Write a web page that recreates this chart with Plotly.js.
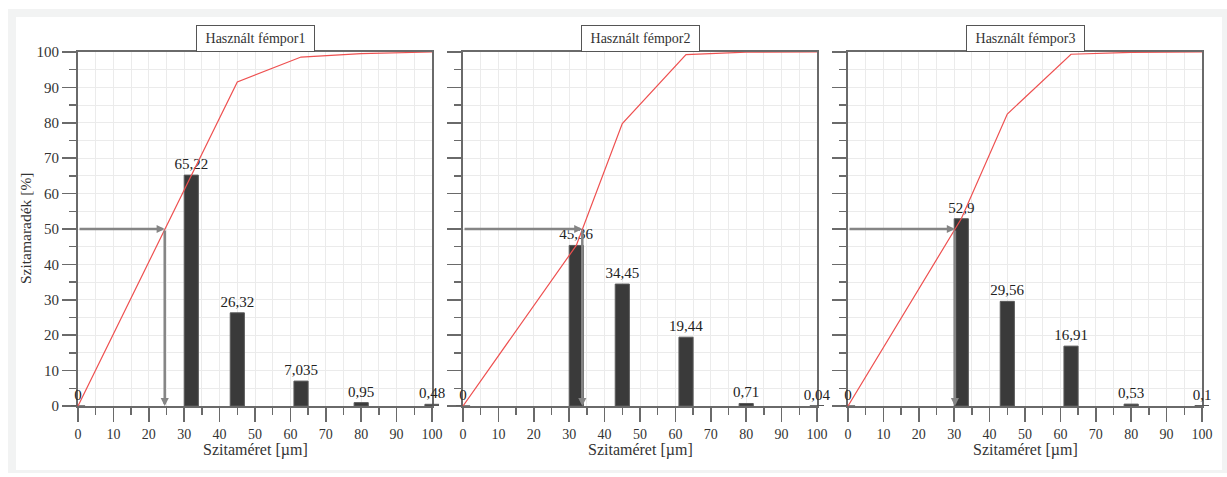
<!DOCTYPE html>
<html>
<head>
<meta charset="utf-8">
<script src="https://cdn.plot.ly/plotly-3.0.1.min.js"></script>
<style>
  html, body { margin: 0; padding: 0; background: #ffffff; }
  #chart { width: 1227px; height: 477px; }
</style>
</head>
<body>
<div id="chart"></div>
<script>
// ---- data ----
const sieveSizes = [0, 32, 45, 63, 80, 100];           // µm
const retained1 = [0, 65.22, 26.32, 7.035, 0.95, 0.48];  // %
const retained2 = [0, 45.36, 34.45, 19.44, 0.71, 0.04];
const retained3 = [0, 52.9, 29.56, 16.91, 0.53, 0.1];
const cumulative1 = [0, 65.22, 91.54, 98.58, 99.52, 100];
const cumulative2 = [0, 45.36, 79.81, 99.25, 99.96, 100];
const cumulative3 = [0, 52.9, 82.46, 99.37, 99.9, 100];
const d50 = [24.5, 33.7, 30.2];                          // µm at 50 %
const panelTitles = ['Használt fémpor1', 'Használt fémpor2', 'Használt fémpor3'];
const xTitle = 'Szitaméret [µm]';
const yTitle = 'Szitamaradék [%]';

const retained = [retained1, retained2, retained3];
const cumulative = [cumulative1, cumulative2, cumulative3];

// ---- geometry (pixels) ----
const W = 1227, H = 477;
const plotLeft = [78, 463, 848];
const plotW = 354;
const plotTop = 52, plotBottom = 406;
const pad = 7.08;   // 2 x-units of overhang for the bar layer
const px = v => v / W;
const py = v => 1 - v / H;

const serif = "'Liberation Serif', 'Times New Roman', serif";
const textCol = '#333333';
const axisCol = '#6a6a6a';
const gridCol = '#ebebeb';
const arrowCol = '#858585';

function fmt(v) { return String(v).replace('.', ','); }

const traces = [];
const layout = {
  width: W, height: H,
  margin: {l: 0, r: 0, t: 0, b: 0},
  paper_bgcolor: '#ffffff',
  plot_bgcolor: 'rgba(0,0,0,0)',
  showlegend: false,
  bargap: 0,
  annotations: [],
  shapes: [
    {type: 'rect', xref: 'paper', yref: 'paper', x0: px(8), x1: px(1227), y0: py(473), y1: py(9),
     fillcolor: '#f2f3f3', line: {width: 0}, layer: 'below'},
    {type: 'rect', xref: 'paper', yref: 'paper', x0: px(16), x1: px(1222), y0: py(470), y1: py(17),
     fillcolor: '#ffffff', line: {width: 0}, layer: 'below'}
  ]
};

for (let i = 0; i < 3; i++) {
  const s = i === 0 ? '' : String(i + 1);
  const xa = 'x' + s, ya = 'y' + s;
  const sb = String(i + 4);
  const xb = 'x' + sb, yb = 'y' + sb;

  layout['xaxis' + s] = {
    domain: [px(plotLeft[i]), px(plotLeft[i] + plotW)],
    anchor: ya,
    range: [0, 100],
    dtick: 10, tick0: 0,
    ticks: 'outside', ticklen: 14, tickwidth: 1.5, tickcolor: axisCol,
    tickfont: {family: serif, size: 14, color: textCol},
    showgrid: true, gridcolor: gridCol, gridwidth: 1,
    minor: {dtick: 5, ticks: 'outside', ticklen: 7, tickwidth: 1.5, tickcolor: axisCol,
            showgrid: true, gridcolor: gridCol, gridwidth: 1},
    showline: true, linecolor: axisCol, linewidth: 2, mirror: true,
    zeroline: false, fixedrange: true
  };
  layout['yaxis' + s] = {
    domain: [py(plotBottom), py(plotTop)],
    anchor: xa,
    range: [0, 100],
    dtick: 10, tick0: 0,
    ticks: 'outside', ticklen: 14, tickwidth: 1.5, tickcolor: axisCol,
    showticklabels: i === 0,
    tickfont: {family: serif, size: 15, color: textCol},
    showgrid: true, gridcolor: gridCol, gridwidth: 1,
    minor: {dtick: 5, ticks: 'outside', ticklen: 7, tickwidth: 1.5, tickcolor: axisCol,
            showgrid: true, gridcolor: gridCol, gridwidth: 1},
    showline: true, linecolor: axisCol, linewidth: 2, mirror: true,
    zeroline: false, fixedrange: true
  };
  // invisible overlay subplot (same scale) so the 100 µm bar can overhang the frame
  layout['xaxis' + sb] = {
    domain: [px(plotLeft[i] - pad), px(plotLeft[i] + plotW + pad)],
    anchor: yb, range: [-2, 102], visible: false, fixedrange: true
  };
  layout['yaxis' + sb] = {
    domain: [py(plotBottom), py(plotTop)],
    anchor: xb, range: [0, 100], visible: false, fixedrange: true
  };

  traces.push({
    type: 'bar', xaxis: xb, yaxis: yb,
    x: sieveSizes, y: retained[i], width: 4,
    marker: {color: '#3a3a3a', line: {color: '#5a5a5a', width: 1}},
    text: retained[i].map(fmt), textposition: 'outside', constraintext: 'none',
    textfont: {family: serif, size: 15, color: '#222222'},
    cliponaxis: false, hoverinfo: 'skip'
  });
  traces.push({
    type: 'scatter', mode: 'lines', xaxis: xb, yaxis: yb,
    x: sieveSizes, y: cumulative[i],
    line: {color: 'rgb(238,80,80)', width: 1.2},
    cliponaxis: false, hoverinfo: 'skip'
  });

  // x-axis line runs slightly past the right frame
  layout.shapes.push({type: 'line', xref: xa + ' domain', yref: ya,
    x0: 1, x1: 1 + 7 / plotW, y0: 0, y1: 0, line: {color: '#555555', width: 2}});

  // panel title box
  layout.annotations.push({
    xref: xa + ' domain', yref: 'paper', x: 0.5, y: py(plotTop), xanchor: 'center', yanchor: 'bottom',
    text: panelTitles[i], showarrow: false,
    font: {family: serif, size: 14, color: '#333333'},
    bgcolor: '#ffffff', bordercolor: '#555555', borderwidth: 1, borderpad: 2,
    width: 113, height: 21
  });
  // x-axis title
  layout.annotations.push({
    xref: xa + ' domain', yref: 'paper', x: 0.5, y: py(450), xanchor: 'center', yanchor: 'middle',
    text: xTitle, showarrow: false,
    font: {family: serif, size: 16, color: textCol}
  });
  // d50 arrows
  layout.annotations.push({
    xref: xa, yref: ya, axref: xa, ayref: ya,
    x: d50[i], y: 50, ax: 0, ay: 50, text: '', showarrow: true,
    arrowhead: 2, arrowsize: 0.65, arrowwidth: 2.5, arrowcolor: arrowCol, standoff: 0, startstandoff: 0
  });
  layout.annotations.push({
    xref: xa, yref: ya, axref: xa, ayref: ya,
    x: d50[i], y: 0, ax: d50[i], ay: 50, text: '', showarrow: true,
    arrowhead: 2, arrowsize: 0.65, arrowwidth: 2.5, arrowcolor: arrowCol, standoff: 0, startstandoff: 0
  });
}

// y-axis title
layout.annotations.push({
  xref: 'paper', yref: 'paper', x: px(25), y: py(229), xanchor: 'center', yanchor: 'middle',
  text: yTitle, textangle: -90, showarrow: false,
  font: {family: serif, size: 15.5, color: textCol}
});

Plotly.newPlot('chart', traces, layout, {staticPlot: true, displayModeBar: false});
</script>
</body>
</html>
